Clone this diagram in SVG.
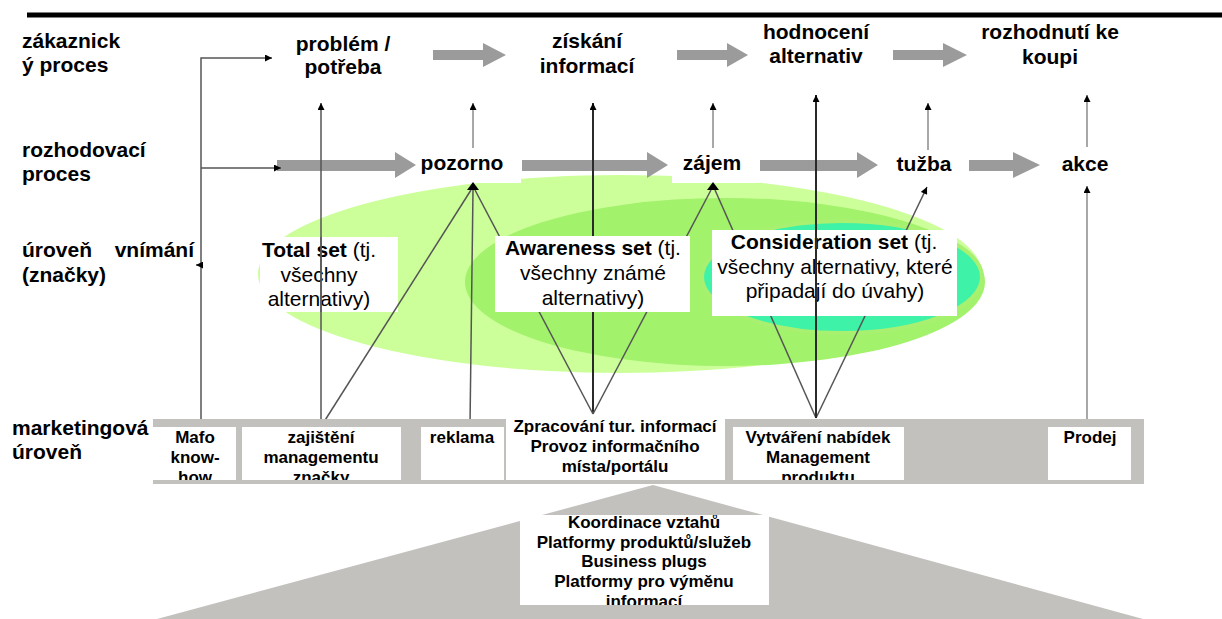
<svg xmlns="http://www.w3.org/2000/svg" width="1222" height="619" viewBox="0 0 1222 619">
<defs>
<style>
text{font-family:"Liberation Sans",Arial,sans-serif;fill:#000}
.lb{font-size:21px;font-weight:bold}
.lr{font-size:21px}
.bx{font-size:17px;font-weight:bold}
.ga{fill:#9b9b9b}
.wb{fill:#fff}
.bar{fill:#c3c1be}
.ln{fill:none;stroke:#555;stroke-width:1.5}
.dk{fill:none;stroke:#2a2a2a;stroke-width:2}
.lg{fill:none;stroke:#a8a8a8;stroke-width:2}
</style>
<marker id="ah" viewBox="0 0 10 10" refX="10" refY="5" markerWidth="8" markerHeight="7" markerUnits="userSpaceOnUse" orient="auto">
<path d="M0,0 L10,5 L0,10 Z" fill="#000"/>
</marker>
<clipPath id="cMafo"><rect x="153" y="427" width="83" height="53"/></clipPath>
<clipPath id="cZaj"><rect x="242" y="427" width="159" height="53"/></clipPath>
<clipPath id="cZpr"><rect x="506" y="418" width="219" height="62"/></clipPath>
<clipPath id="cVyt"><rect x="733" y="427" width="171" height="53"/></clipPath>
<clipPath id="cTri"><rect x="520" y="515" width="249" height="90"/></clipPath>
</defs>
<rect width="1222" height="619" fill="#fff"/>
<line x1="27" y1="15" x2="1222" y2="15" stroke="#000" stroke-width="5"/>

<g id="row-labels">
<text class="lb" x="22" y="48">zákaznick</text>
<text class="lb" x="22" y="72">ý proces</text>
<text class="lb" x="22" y="157">rozhodovací</text>
<text class="lb" x="22" y="181">proces</text>
<text class="lb" x="22" y="257">úroveň</text>
<text class="lb" x="194" y="257" text-anchor="end">vnímání</text>
<text class="lb" x="22" y="282">(značky)</text>
<text class="lb" x="12" y="435">marketingová</text>
<text class="lb" x="12" y="459">úroveň</text>
</g>

<g id="sets-ellipses">
<ellipse cx="620" cy="274" rx="362" ry="99" fill="#ccff99"/>
<ellipse cx="725" cy="282" rx="260" ry="84" fill="#a2f26c"/>
<ellipse cx="842" cy="277" rx="140" ry="56" fill="#3ef2a8" stroke="#a8f070" stroke-width="4"/>
</g>

<g id="customer-process">
<text class="lb" text-anchor="middle" x="343" y="51">problém /</text>
<text class="lb" text-anchor="middle" x="343" y="74">potřeba</text>
<text class="lb" text-anchor="middle" x="587" y="48">získání</text>
<text class="lb" text-anchor="middle" x="587" y="73">informací</text>
<text class="lb" text-anchor="middle" x="816" y="39">hodnocení</text>
<text class="lb" text-anchor="middle" x="816" y="63">alternativ</text>
<text class="lb" text-anchor="middle" x="1050" y="39">rozhodnutí ke</text>
<text class="lb" text-anchor="middle" x="1050" y="64">koupi</text>
<path class="ga" d="M433,50 H483 V43 L506,55 L483,67 V60 H433 Z"/>
<path class="ga" d="M677,50 H727 V43 L748,55 L727,67 V60 H677 Z"/>
<path class="ga" d="M893,50 H943 V43 L967,55 L943,67 V60 H893 Z"/>
</g>

<g id="decision-process">
<rect class="wb" x="405" y="146" width="116" height="37"/>
<rect class="wb" x="672" y="146" width="88" height="37"/>
<path class="ga" d="M277,160 H395 V152 L416,165 L395,178 V171 H277 Z"/>
<path class="ga" d="M522,160 H647 V152 L668,165 L647,178 V171 H522 Z"/>
<path class="ga" d="M760,160 H857 V152 L878,165 L857,178 V171 H760 Z"/>
<path class="ga" d="M969,160 H1013 V152 L1040,165 L1013,178 V171 H969 Z"/>
<text class="lb" text-anchor="middle" x="462" y="170">pozorno</text>
<text class="lb" text-anchor="middle" x="712" y="170">zájem</text>
<text class="lb" text-anchor="middle" x="924" y="171">tužba</text>
<text class="lb" text-anchor="middle" x="1085" y="171">akce</text>
</g>

<g id="total-set">
<rect class="wb" x="260" y="237" width="138" height="75"/>
<text class="lr" text-anchor="middle" x="319" y="257"><tspan font-weight="bold">Total set</tspan> (tj.</text>
<text class="lr" text-anchor="middle" x="319" y="282">všechny</text>
<text class="lr" text-anchor="middle" x="319" y="306">alternativy)</text>
</g>

<g id="connectors">
<path class="ln" d="M201,427 V58 H272" marker-end="url(#ah)"/>
<path class="ln" d="M201,168 H281" marker-end="url(#ah)"/>
<path class="ln" d="M201,265 H196" marker-end="url(#ah)"/>
<path class="ln" stroke="#707070" d="M321,425 V103" marker-end="url(#ah)"/>
<path class="lg" d="M473,148 V103" marker-end="url(#ah)"/>
<path class="lg" d="M713,148 V103" marker-end="url(#ah)"/>
<path class="lg" d="M928,150 V103" marker-end="url(#ah)"/>
<path class="lg" d="M1087,147 V95" marker-end="url(#ah)"/>
<path class="lg" stroke="#b4b4b4" stroke-width="3" d="M1087,420 V186" marker-end="url(#ah)"/>
<path class="dk" d="M593,414 V103" marker-end="url(#ah)"/>
<path class="ln" d="M322,425 L471,190"/>
<path class="ln" d="M470,425 L473,190"/>
<path class="ln" d="M593,414 L475,190"/>
<path class="ln" d="M593,414 L711,190"/>
<path class="ln" d="M816,418 L715,190"/>
<path class="ln" d="M816,418 L927,187" marker-end="url(#ah)"/>
<polygon points="473,182 479,190 467,190" fill="#000"/>
<polygon points="713,182 719,190 707,190" fill="#000"/>
</g>

<g id="awareness-set">
<rect class="wb" x="495" y="236" width="195" height="76"/>
<text class="lr" text-anchor="middle" x="593" y="255"><tspan font-weight="bold">Awareness set</tspan> (tj.</text>
<text class="lr" text-anchor="middle" x="593" y="280">všechny známé</text>
<text class="lr" text-anchor="middle" x="593" y="305">alternativy)</text>
</g>

<g id="consideration-set">
<rect class="wb" x="712" y="230" width="245" height="86"/>
<text class="lr" text-anchor="middle" x="834" y="249"><tspan font-weight="bold">Consideration set</tspan> (tj.</text>
<text class="lr" text-anchor="middle" x="835" y="274">všechny alternativy, které</text>
<text class="lr" text-anchor="middle" x="835" y="298">připadají do úvahy)</text>
</g>

<g id="connectors-front">
<path class="dk" stroke="#3a3a3a" d="M816,418 V95" marker-end="url(#ah)"/>
<path class="ln" stroke="#707070" d="M321,312 V237"/>
</g>

<g id="marketing-bar">
<rect class="bar" x="153" y="419" width="991" height="65"/>
</g>

<g id="mafo">
<rect class="wb" x="153" y="427" width="83" height="53"/>
<g clip-path="url(#cMafo)">
<text class="bx" text-anchor="middle" x="195" y="443">Mafo</text>
<text class="bx" text-anchor="middle" x="195" y="463">know-</text>
<text class="bx" text-anchor="middle" x="195" y="483">how</text>
</g>
</g>

<g id="zajisteni">
<rect class="wb" x="242" y="427" width="159" height="53"/>
<g clip-path="url(#cZaj)">
<text class="bx" text-anchor="middle" x="321" y="443">zajištění</text>
<text class="bx" text-anchor="middle" x="321" y="463">managementu</text>
<text class="bx" text-anchor="middle" x="321" y="483">značky</text>
</g>
</g>

<g id="reklama">
<rect class="wb" x="421" y="427" width="83" height="53"/>
<text class="bx" text-anchor="middle" x="462" y="443">reklama</text>
</g>

<g id="zpracovani">
<rect class="wb" x="506" y="418" width="219" height="62"/>
<g clip-path="url(#cZpr)">
<text class="bx" text-anchor="middle" x="615" y="432">Zpracování tur. informací</text>
<text class="bx" text-anchor="middle" x="615" y="452">Provoz informačního</text>
<text class="bx" text-anchor="middle" x="615" y="472">místa/portálu</text>
</g>
</g>

<g id="vytvareni">
<rect class="wb" x="733" y="427" width="171" height="53"/>
<g clip-path="url(#cVyt)">
<text class="bx" text-anchor="middle" x="818" y="443">Vytváření nabídek</text>
<text class="bx" text-anchor="middle" x="818" y="463">Management</text>
<text class="bx" text-anchor="middle" x="818" y="483">produktu</text>
</g>
</g>

<g id="prodej">
<rect class="wb" x="1048" y="427" width="83" height="53"/>
<text class="bx" text-anchor="middle" x="1090" y="443">Prodej</text>
</g>

<g id="platform-base">
<polygon class="bar" points="653,485 157,619 1143,619"/>
<rect class="wb" x="520" y="515" width="249" height="90"/>
<g clip-path="url(#cTri)">
<text class="bx" text-anchor="middle" x="644" y="528">Koordinace vztahů</text>
<text class="bx" text-anchor="middle" x="644" y="548">Platformy produktů/služeb</text>
<text class="bx" text-anchor="middle" x="644" y="567">Business plugs</text>
<text class="bx" text-anchor="middle" x="644" y="587">Platformy pro výměnu</text>
<text class="bx" text-anchor="middle" x="644" y="607">informací</text>
</g>
</g>
</svg>
